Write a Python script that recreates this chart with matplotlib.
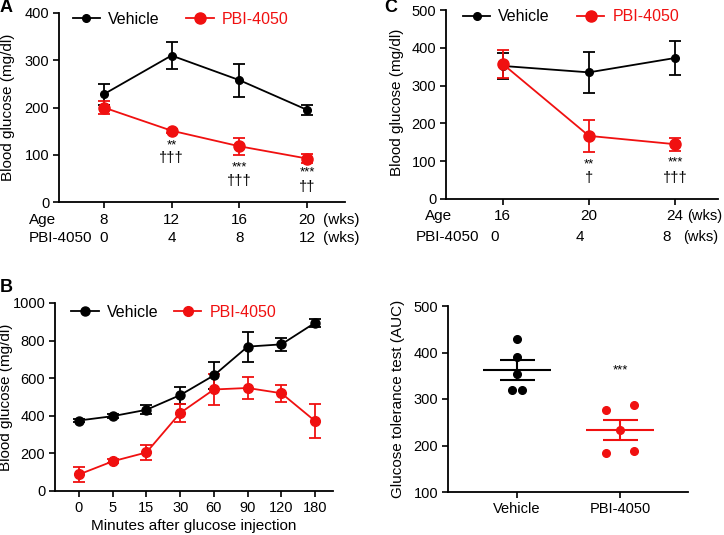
import numpy as np
import matplotlib
matplotlib.use('Agg')
import matplotlib.pyplot as plt
from matplotlib.lines import Line2D

plt.rcParams['font.family'] = ['Liberation Sans', 'DejaVu Sans']
plt.rcParams['font.size'] = 9.5

RED = '#f01010'

# panel A
a_age = ['8', '12', '16', '20']
a_pbi = ['0', '4', '8', '12']
a_veh = [228, 310, 258, 195]
a_veh_err = [22, 28, 35, 10]
a_drug = [200, 151, 118, 92]
a_drug_err = [14, 4, 18, 10]
a_stars = ['', '**', '***', '***']
a_star_y = [0, 120, 74, 63]
a_dagger = ['', '\u2020\u2020\u2020', '\u2020\u2020\u2020', '\u2020\u2020']
a_dagger_y = [0, 93, 45, 32]

# panel C
c_age = ['16', '20', '24']
c_pbi = ['0', '4', '8']
c_veh = [352, 335, 373]
c_veh_err = [35, 55, 45]
c_drug = [357, 167, 145]
c_drug_err = [37, 42, 17]
c_stars = ['', '**', '***']
c_star_y = [0, 92, 97]
c_dagger = ['', '\u2020', '\u2020\u2020\u2020']
c_dagger_y = [0, 55, 55]

# panel B
b_min = ['0', '5', '15', '30', '60', '90', '120', '180']
b_veh = [375, 398, 432, 510, 615, 768, 780, 895]
b_veh_err = [10, 10, 25, 45, 70, 80, 35, 20]
b_drug = [88, 158, 205, 415, 540, 548, 520, 372]
b_drug_err = [38, 10, 40, 50, 85, 58, 45, 90]

# panel D
d_groups = ['Vehicle', 'PBI-4050']
d_veh_pts = [430, 390, 353, 320, 320]
d_veh_off = [0, 0, 0, -0.05, 0.05]
d_drug_pts = [277, 287, 233, 183, 188]
d_drug_off = [-0.14, 0.14, 0, -0.14, 0.14]

W, H = 724, 535
fig = plt.figure(figsize=(W / 100, H / 100), dpi=100)


def px_axes(left, top, right, bottom):
    return fig.add_axes([left / W, 1 - bottom / H, (right - left) / W, (bottom - top) / H])


def style(ax):
    ax.spines['top'].set_visible(False)
    ax.spines['right'].set_visible(False)
    ax.spines['left'].set_linewidth(1.3)
    ax.spines['bottom'].set_linewidth(1.3)
    ax.tick_params(direction='out', width=1.2, length=4, labelsize=10.5, pad=3)


def lines(ax, veh, veh_err, drug, drug_err, ms_v, ms_d):
    x = np.arange(len(veh))
    ax.errorbar(x, veh, yerr=veh_err, color='black', marker='o', ms=ms_v, lw=1.3,
                capsize=4, capthick=1.3, elinewidth=1.3, clip_on=False)
    ax.errorbar(x, drug, yerr=drug_err, color=RED, marker='o', ms=ms_d, lw=1.3,
                capsize=4, capthick=1.3, elinewidth=1.3, clip_on=False)


def legend(ax, x0, y0, ms_v, ms_d, colsp):
    handles = [Line2D([], [], color='black', marker='o', ms=ms_v, lw=1.3),
               Line2D([], [], color=RED, marker='o', ms=ms_d, lw=1.3)]
    leg = ax.legend(handles, ['Vehicle', 'PBI-4050'], ncol=2, frameon=False,
                    loc='center left', bbox_to_anchor=(x0, y0), fontsize=11.5,
                    handlelength=1.7, handletextpad=0.5, columnspacing=colsp,
                    borderaxespad=0)
    leg.get_texts()[1].set_color(RED)


# ---- A ----
axA = px_axes(59, 13, 345, 202)
style(axA)
lines(axA, a_veh, a_veh_err, a_drug, a_drug_err, 5.5, 8)
axA.set_xlim(-0.66, 3.56)
axA.set_ylim(0, 400)
axA.set_yticks([0, 100, 200, 300, 400])
axA.set_xticks(range(len(a_age)))
axA.set_xticklabels([])
axA.set_ylabel('Blood glucose (mg/dl)', fontsize=11)
axA.yaxis.set_label_coords(-0.155, 0.5)
legend(axA, 0.025, 0.968, 5.5, 8, 1.7)
tr = axA.get_xaxis_transform()
for i in range(len(a_age)):
    axA.text(i, -0.095, a_age[i], transform=tr, ha='center', va='center', fontsize=11)
    axA.text(i, -0.19, a_pbi[i], transform=tr, ha='center', va='center', fontsize=11)
    if a_stars[i]:
        axA.text(i, a_star_y[i], a_stars[i], ha='center', va='center', fontsize=9.5)
        axA.text(i, a_dagger_y[i], a_dagger[i], ha='center', va='center', fontsize=10.5)
axA.text(-0.105, -0.095, 'Age', transform=axA.transAxes, ha='left', va='center', fontsize=11)
axA.text(-0.105, -0.19, 'PBI-4050', transform=axA.transAxes, ha='left', va='center', fontsize=11)
axA.text(0.923, -0.095, '(wks)', transform=axA.transAxes, ha='left', va='center', fontsize=11)
axA.text(0.923, -0.19, '(wks)', transform=axA.transAxes, ha='left', va='center', fontsize=11)

# ---- C ----
axC = px_axes(446, 10, 718, 199)
style(axC)
lines(axC, c_veh, c_veh_err, c_drug, c_drug_err, 5.5, 8)
axC.set_xlim(-0.66, 2.5)
axC.set_ylim(0, 500)
axC.set_yticks([0, 100, 200, 300, 400, 500])
axC.set_xticks(range(len(c_age)))
axC.set_xticklabels([])
axC.set_ylabel('Blood glucose (mg/dl)', fontsize=11)
axC.yaxis.set_label_coords(-0.154, 0.51)
legend(axC, 0.04, 0.963, 5.5, 8, 1.7)
tr = axC.get_xaxis_transform()
for i in range(len(c_age)):
    axC.text(i, -0.09, c_age[i], transform=tr, ha='center', va='center', fontsize=11)
    axC.text(i - 0.1, -0.2, c_pbi[i], transform=tr, ha='center', va='center', fontsize=11)
    if c_stars[i]:
        axC.text(i, c_star_y[i], c_stars[i], ha='center', va='center', fontsize=9.5)
        axC.text(i, c_dagger_y[i], c_dagger[i], ha='center', va='center', fontsize=10.5)
axC.text(-0.078, -0.09, 'Age', transform=axC.transAxes, ha='left', va='center', fontsize=11)
axC.text(-0.11, -0.2, 'PBI-4050', transform=axC.transAxes, ha='left', va='center', fontsize=11)
axC.text(0.888, -0.09, '(wks)', transform=axC.transAxes, ha='left', va='center', fontsize=10.5)
axC.text(0.872, -0.2, '(wks)', transform=axC.transAxes, ha='left', va='center', fontsize=10.5)

# ---- B ----
axB = px_axes(55, 303, 333, 491)
style(axB)
lines(axB, b_veh, b_veh_err, b_drug, b_drug_err, 6.5, 7)
axB.set_xlim(-0.71, 7.53)
axB.set_ylim(0, 1000)
axB.set_yticks(range(0, 1001, 200))
axB.set_xticks(range(len(b_min)))
axB.set_xticklabels(b_min)
axB.set_ylabel('Blood glucose (mg/dl)', fontsize=11)
axB.yaxis.set_label_coords(-0.15, 0.5)
axB.set_xlabel('Minutes after glucose injection', fontsize=11, labelpad=3)
legend(axB, 0.036, 0.952, 6.5, 7, 1.0)

# ---- D ----
axD = px_axes(448, 306, 688, 492)
style(axD)
for i, (pts, off, col) in enumerate([(d_veh_pts, d_veh_off, 'black'),
                                      (d_drug_pts, d_drug_off, RED)]):
    x = i + np.array(off)
    axD.plot(x, pts, 'o', color=col, ms=5.5, clip_on=False)
    m = np.mean(pts)
    sem = np.std(pts, ddof=1) / np.sqrt(len(pts))
    axD.hlines(m, i - 0.33, i + 0.33, color=col, lw=1.5)
    axD.hlines([m - sem, m + sem], i - 0.17, i + 0.17, color=col, lw=1.5)
    axD.vlines(i, m - sem, m + sem, color=col, lw=1.5)
axD.text(1, 362, '***', ha='center', va='center', fontsize=9.5)
axD.set_xlim(-0.67, 1.66)
axD.set_ylim(100, 500)
axD.set_yticks(range(100, 501, 100))
axD.set_xticks(range(len(d_groups)))
axD.set_xticklabels(d_groups)
axD.set_ylabel('Glucose tolerance test (AUC)', fontsize=11)
axD.yaxis.set_label_coords(-0.18, 0.5)

# panel letters
fig.text(0 / W, 1 - 8 / H, 'A', fontsize=13, fontweight='bold', va='center', ha='left')
fig.text(0 / W, 1 - 287 / H, 'B', fontsize=13, fontweight='bold', va='center', ha='left')
fig.text(384 / W, 1 - 8 / H, 'C', fontsize=13, fontweight='bold', va='center', ha='left')

fig.savefig('out.png', dpi=100)
